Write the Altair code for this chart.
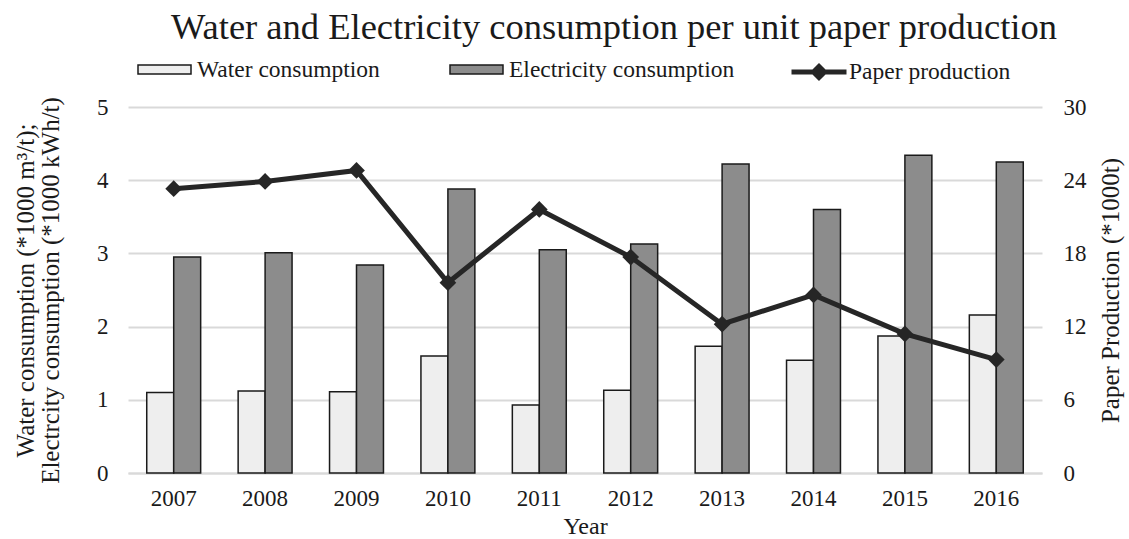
import altair as alt
import pandas as pd

years = ["2007", "2008", "2009", "2010", "2011", "2012", "2013", "2014", "2015", "2016"]
water = [1.10, 1.12, 1.11, 1.60, 0.93, 1.13, 1.73, 1.54, 1.87, 2.16]
electricity = [2.95, 3.01, 2.84, 3.88, 3.05, 3.13, 4.22, 3.60, 4.34, 4.25]
paper = [23.3, 23.9, 24.8, 15.6, 21.6, 17.7, 12.2, 14.6, 11.4, 9.3]

series_names = ["Water consumption", "Electricity consumption"]
line_name = "Paper production"
left_ticks = [0, 1, 2, 3, 4, 5]
right_ticks = [0, 6, 12, 18, 24, 30]

rows = []
for yr, w, e in zip(years, water, electricity):
    rows.append({"year": yr, "series": series_names[0], "value": w})
    rows.append({"year": yr, "series": series_names[1], "value": e})
bars_df = pd.DataFrame(rows)
line_df = pd.DataFrame({"year": years, "paper": paper, "label": [line_name] * len(years)})

FONT = "Liberation Serif"
TXT = "#1a1a1a"
GRID = "#d9d9d9"

x_enc = alt.X(
    "year:N", sort=years, title="Year",
    scale=alt.Scale(paddingInner=0.41, paddingOuter=0.205),
    axis=alt.Axis(labelAngle=0, ticks=False, labelPadding=14, labelFontSize=23,
                  titleFontSize=24, titleY=60, titleBaseline="alphabetic",
                  domainColor=GRID, domainWidth=2, grid=False),
)

bars = alt.Chart(bars_df).mark_bar(stroke=TXT, strokeWidth=1.5).encode(
    x=x_enc,
    xOffset=alt.XOffset("series:N", sort=series_names,
                        scale=alt.Scale(domain=series_names, paddingInner=0, paddingOuter=0)),
    y=alt.Y("value:Q", scale=alt.Scale(domain=[0, 5]),
            axis=alt.Axis(values=left_ticks, ticks=False, domain=False, grid=True,
                          gridColor=GRID, gridWidth=2, labelPadding=20, labelFontSize=23,
                          title=["Water consumption (*1000 m³/t);",
                                 "Electrcity consumption (*1000 kWh/t)"],
                          titleFontSize=25, titleAngle=270, titleX=-95, titleY=183,
                          titleAlign="center", titleBaseline="alphabetic", titleLineHeight=25)),
    fill=alt.Fill("series:N", sort=series_names, title=None,
                  scale=alt.Scale(domain=series_names, range=["#eeeeee", "#8c8c8c"]),
                  legend=alt.Legend(orient="none", legendX=9, legendY=-65, direction="horizontal",
                                    symbolType="M-1,-0.17H1V0.17H-1Z", symbolSize=2809,
                                    symbolStrokeColor=TXT, symbolStrokeWidth=1.5,
                                    labelFont=FONT, labelFontSize=23.5, labelColor=TXT,
                                    labelOffset=5, columnPadding=67, labelLimit=0)),
)

y_right = alt.Y("paper:Q", scale=alt.Scale(domain=[0, 30]),
                axis=alt.Axis(orient="right", values=right_ticks, ticks=False, domain=False,
                              grid=False, labelPadding=21, labelFontSize=23,
                              title="Paper Production (*1000t)", titleFontSize=25,
                              titleAngle=270, titleX=76, titleY=183, titleAlign="center",
                              titleBaseline="alphabetic"))

line = alt.Chart(line_df).mark_line(strokeWidth=5).encode(
    x=x_enc,
    y=y_right,
    stroke=alt.Stroke("label:N", title=None,
                      scale=alt.Scale(domain=[line_name], range=["#262626"]),
                      legend=alt.Legend(orient="none", legendX=661, legendY=-65,
                                        symbolType="M-1,0H1M-0.2,0L0,-0.2L0.2,0L0,0.2Z",
                                        symbolSize=3025, symbolStrokeWidth=5,
                                        symbolFillColor="#262626",
                                        labelFont=FONT, labelFontSize=23.5, labelColor=TXT,
                                        labelOffset=0, labelLimit=0)),
)
points = alt.Chart(line_df).mark_point(shape="diamond", filled=True, size=280,
                                       color="#262626", opacity=1).encode(x=x_enc, y=y_right)

chart = alt.layer(bars, alt.layer(line, points)).resolve_scale(y="independent").properties(
    width=914, height=366,
    padding={"left": 128, "top": 107, "right": 87, "bottom": 66},
    autosize=alt.AutoSizeParams(type="none"),
    background="white",
    title=alt.TitleParams(text="Water and Electricity consumption per unit paper production",
                          font=FONT, fontSize=36.5, fontWeight="normal", color=TXT,
                          anchor="middle", dx=29, dy=38, offset=5, baseline="alphabetic"),
).configure_view(stroke=None).configure_axis(
    labelFont=FONT, titleFont=FONT, labelColor=TXT, titleColor=TXT, titleFontWeight="normal"
)

chart.save("out.html", embed_options={"renderer": "svg", "actions": False})
